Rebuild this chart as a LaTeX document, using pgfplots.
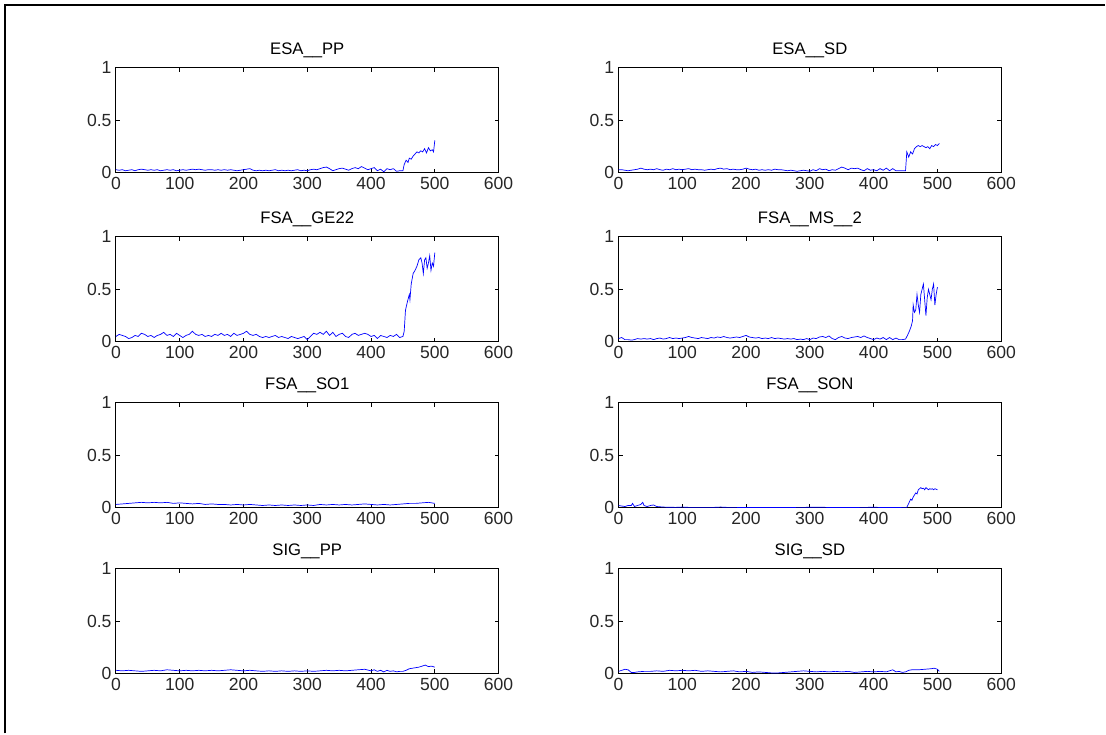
\documentclass[border=0pt]{standalone}
\usepackage{fontspec}
\setmainfont{Liberation Sans}
\usepackage{pgfplots}
\pgfplotsset{compat=1.18}
\pgfplotsset{
  mstyle/.style={
    scale only axis, width=7.66cm, height=2.1cm, anchor=south west,
    xmin=0, xmax=600, ymin=0, ymax=1,
    xtick={0,100,...,600}, ytick={0,0.5,1},
    tick align=inside, major tick length=0.08cm,
    axis line style={line width=0.6pt},
    every tick/.style={black, line width=0.5pt},
    tick label style={font=\fontsize{10}{11}\selectfont, text=black!85},
    /pgf/number format/assume math mode=true,
    xticklabel style={yshift=1pt},
    yticklabel style={xshift=1pt},
    title style={font=\fontsize{9.5}{11}\selectfont, yshift=-4pt},
    no marks,
    cycle list={{color={rgb,1:red,0;green,0;blue,1}, line width=0.75pt}},
  }
}
\begin{document}
\begin{tikzpicture}
\path (0,0) rectangle (22.12cm,14.68cm);
\draw[line width=1pt] (0.1cm,0) -- (0.1cm,14.58cm) -- (22.12cm,14.58cm);

% Row 1 left: ESA__PP
\begin{axis}[mstyle, at={(2.32cm,11.22cm)}, title={ESA\_\_PP}]
\addplot table[row sep=\\] {
x y\\
0 .03\\ 5 .025\\ 10 .03\\ 15 .02\\ 20 .025\\ 25 .03\\ 30 .02\\ 35 .03\\ 40 .035\\ 45 .03\\ 50 .025\\ 55 .03\\ 60 .025\\ 65 .03\\ 70 .02\\ 75 .025\\ 80 .03\\ 85 .025\\ 90 .03\\ 95 .02\\ 100 .025\\ 105 .03\\ 110 .025\\ 115 .03\\ 120 .035\\ 125 .03\\ 130 .035\\ 135 .03\\ 140 .025\\ 145 .03\\ 150 .03\\ 155 .025\\ 160 .03\\ 165 .025\\ 170 .03\\ 175 .025\\ 180 .03\\ 185 .025\\ 190 .02\\ 195 .025\\ 200 .03\\ 205 .035\\ 210 .04\\ 215 .025\\ 220 .02\\ 225 .025\\ 230 .02\\ 235 .025\\ 240 .02\\ 245 .025\\ 250 .03\\ 255 .02\\ 260 .025\\ 265 .02\\ 270 .025\\ 275 .02\\ 280 .025\\ 285 .03\\ 290 .02\\ 295 .025\\ 300 .02\\ 305 .03\\ 310 .035\\ 315 .03\\ 320 .04\\ 325 .05\\ 330 .055\\ 335 .04\\ 340 .02\\ 345 .03\\ 350 .04\\ 355 .045\\ 360 .035\\ 365 .025\\ 370 .04\\ 375 .05\\ 380 .04\\ 385 .06\\ 390 .045\\ 395 .03\\ 400 .04\\ 405 .05\\ 410 .02\\ 415 .035\\ 420 .01\\ 425 .04\\ 430 .03\\ 435 .04\\ 440 .015\\ 445 .02\\ 450 .02\\ 452 .08\\ 455 .12\\ 458 .1\\ 460 .14\\ 463 .13\\ 466 .16\\ 469 .18\\ 472 .2\\ 475 .19\\ 478 .21\\ 481 .2\\ 484 .23\\ 487 .19\\ 490 .24\\ 493 .21\\ 496 .22\\ 498 .2\\ 500 .31\\
};
\end{axis}

% Row 1 right: ESA__SD
\begin{axis}[mstyle, at={(12.38cm,11.22cm)}, title={ESA\_\_SD}]
\addplot table[row sep=\\] {
x y\\
0 .03\\ 5 .03\\ 10 .025\\ 15 .02\\ 20 .025\\ 25 .03\\ 30 .035\\ 35 .045\\ 40 .035\\ 45 .03\\ 50 .035\\ 55 .03\\ 60 .04\\ 65 .03\\ 70 .025\\ 75 .035\\ 80 .03\\ 85 .04\\ 90 .03\\ 95 .035\\ 100 .03\\ 105 .035\\ 110 .04\\ 115 .03\\ 120 .035\\ 125 .03\\ 130 .03\\ 135 .025\\ 140 .03\\ 145 .035\\ 150 .03\\ 155 .04\\ 160 .045\\ 165 .035\\ 170 .04\\ 175 .03\\ 180 .035\\ 185 .03\\ 190 .03\\ 195 .035\\ 200 .045\\ 205 .035\\ 210 .03\\ 215 .035\\ 220 .025\\ 225 .03\\ 230 .025\\ 235 .03\\ 240 .025\\ 245 .035\\ 250 .03\\ 255 .03\\ 260 .025\\ 265 .02\\ 270 .025\\ 275 .02\\ 280 .015\\ 285 .02\\ 290 .025\\ 295 .02\\ 300 .015\\ 305 .03\\ 310 .02\\ 315 .04\\ 320 .03\\ 325 .035\\ 330 .02\\ 335 .03\\ 340 .025\\ 345 .04\\ 350 .055\\ 355 .045\\ 360 .03\\ 365 .045\\ 370 .04\\ 375 .045\\ 380 .03\\ 385 .02\\ 390 .04\\ 395 .025\\ 400 .03\\ 405 .02\\ 410 .04\\ 415 .025\\ 420 .045\\ 425 .02\\ 430 .04\\ 435 .02\\ 440 .02\\ 445 .02\\ 450 .02\\ 452 .2\\ 455 .15\\ 458 .2\\ 461 .18\\ 464 .23\\ 467 .25\\ 470 .26\\ 473 .25\\ 476 .26\\ 479 .25\\ 482 .24\\ 485 .25\\ 488 .23\\ 491 .26\\ 494 .25\\ 497 .27\\ 500 .26\\ 503 .28\\
};
\end{axis}

% Row 2 left: FSA__GE22
\begin{axis}[mstyle, at={(2.32cm,7.84cm)}, title={FSA\_\_GE22}]
\addplot table[row sep=\\] {
x y\\
0 .05\\ 5 .07\\ 10 .06\\ 15 .05\\ 20 .03\\ 25 .04\\ 30 .06\\ 35 .05\\ 40 .08\\ 45 .07\\ 50 .05\\ 55 .06\\ 60 .04\\ 65 .06\\ 70 .07\\ 75 .09\\ 80 .06\\ 85 .07\\ 90 .05\\ 95 .08\\ 100 .06\\ 105 .04\\ 110 .06\\ 115 .07\\ 120 .1\\ 125 .07\\ 130 .06\\ 135 .07\\ 140 .05\\ 145 .06\\ 150 .05\\ 155 .07\\ 160 .06\\ 165 .08\\ 170 .06\\ 175 .07\\ 180 .05\\ 185 .08\\ 190 .06\\ 195 .07\\ 200 .08\\ 205 .1\\ 210 .07\\ 215 .06\\ 220 .07\\ 225 .05\\ 230 .04\\ 235 .05\\ 240 .04\\ 245 .05\\ 250 .06\\ 255 .04\\ 260 .05\\ 265 .04\\ 270 .03\\ 275 .05\\ 280 .04\\ 285 .03\\ 290 .04\\ 295 .05\\ 300 .02\\ 305 .05\\ 310 .08\\ 315 .07\\ 320 .09\\ 325 .07\\ 330 .1\\ 335 .06\\ 340 .09\\ 345 .05\\ 350 .07\\ 355 .08\\ 360 .05\\ 365 .04\\ 370 .07\\ 375 .08\\ 380 .06\\ 385 .07\\ 390 .08\\ 395 .07\\ 400 .05\\ 405 .06\\ 410 .03\\ 415 .06\\ 420 .05\\ 425 .04\\ 430 .06\\ 435 .05\\ 440 .07\\ 445 .04\\ 450 .05\\ 452 .1\\ 454 .3\\ 457 .38\\ 460 .45\\ 461 .4\\ 463 .55\\ 466 .65\\ 469 .68\\ 472 .72\\ 475 .78\\ 478 .8\\ 480 .75\\ 482 .65\\ 484 .78\\ 486 .8\\ 488 .7\\ 490 .75\\ 492 .82\\ 494 .68\\ 496 .75\\ 498 .72\\ 500 .85\\
};
\end{axis}

% Row 2 right: FSA__MS__2
\begin{axis}[mstyle, at={(12.38cm,7.84cm)}, title={FSA\_\_MS\_\_2}]
\addplot table[row sep=\\] {
x y\\
0 .03\\ 5 .04\\ 10 .02\\ 15 .02\\ 20 .015\\ 25 .02\\ 30 .03\\ 35 .025\\ 40 .03\\ 45 .025\\ 50 .03\\ 55 .02\\ 60 .03\\ 65 .035\\ 70 .025\\ 75 .03\\ 80 .04\\ 85 .03\\ 90 .035\\ 95 .03\\ 100 .035\\ 105 .04\\ 110 .05\\ 115 .04\\ 120 .035\\ 125 .03\\ 130 .04\\ 135 .035\\ 140 .03\\ 145 .04\\ 150 .035\\ 155 .045\\ 160 .04\\ 165 .05\\ 170 .04\\ 175 .035\\ 180 .04\\ 185 .045\\ 190 .04\\ 195 .05\\ 200 .06\\ 205 .045\\ 210 .04\\ 215 .035\\ 220 .04\\ 225 .03\\ 230 .035\\ 235 .03\\ 240 .04\\ 245 .03\\ 250 .035\\ 255 .03\\ 260 .025\\ 265 .03\\ 270 .025\\ 275 .03\\ 280 .02\\ 285 .025\\ 290 .02\\ 295 .03\\ 300 .02\\ 305 .035\\ 310 .03\\ 315 .045\\ 320 .05\\ 325 .04\\ 330 .055\\ 335 .03\\ 340 .02\\ 345 .04\\ 350 .05\\ 355 .035\\ 360 .03\\ 365 .04\\ 370 .045\\ 375 .05\\ 380 .04\\ 385 .055\\ 390 .04\\ 395 .03\\ 400 .02\\ 405 .035\\ 410 .025\\ 415 .04\\ 420 .02\\ 425 .04\\ 430 .02\\ 435 .035\\ 440 .02\\ 445 .02\\ 450 .025\\ 453 .06\\ 456 .1\\ 459 .15\\ 461 .2\\ 462 .35\\ 464 .28\\ 466 .3\\ 468 .45\\ 470 .35\\ 472 .28\\ 474 .45\\ 476 .5\\ 478 .55\\ 480 .4\\ 482 .25\\ 484 .42\\ 486 .5\\ 488 .45\\ 490 .4\\ 492 .5\\ 494 .55\\ 496 .35\\ 498 .45\\ 500 .52\\
};
\end{axis}

% Row 3 left: FSA__SO1
\begin{axis}[mstyle, at={(2.32cm,4.52cm)}, title={FSA\_\_SO1}]
\addplot table[row sep=\\] {
x y\\
0 .03\\ 10 .035\\ 20 .04\\ 30 .045\\ 40 .05\\ 50 .045\\ 60 .05\\ 70 .045\\ 80 .05\\ 90 .04\\ 100 .045\\ 110 .04\\ 120 .035\\ 130 .04\\ 140 .03\\ 150 .035\\ 160 .03\\ 170 .03\\ 180 .025\\ 190 .03\\ 200 .025\\ 210 .03\\ 220 .025\\ 230 .02\\ 240 .025\\ 250 .02\\ 260 .025\\ 270 .02\\ 280 .025\\ 290 .02\\ 300 .025\\ 310 .02\\ 320 .03\\ 330 .025\\ 340 .03\\ 350 .025\\ 360 .03\\ 370 .025\\ 380 .03\\ 390 .035\\ 400 .03\\ 410 .025\\ 420 .03\\ 430 .025\\ 440 .03\\ 450 .035\\ 460 .04\\ 470 .04\\ 480 .045\\ 490 .05\\ 500 .04\\
};
\end{axis}

% Row 3 right: FSA__SON
\begin{axis}[mstyle, at={(12.38cm,4.52cm)}, title={FSA\_\_SON}]
\addplot table[row sep=\\] {
x y\\
0 .02\\ 5 .015\\ 10 .01\\ 15 .02\\ 20 .02\\ 22 .04\\ 25 .01\\ 30 .02\\ 35 .03\\ 38 .05\\ 40 .02\\ 45 .01\\ 50 .02\\ 55 .025\\ 60 .01\\ 70 .005\\ 80 .003\\ 90 .002\\ 100 .005\\ 110 .002\\ 150 .002\\ 160 .005\\ 170 .002\\ 250 .001\\ 320 .003\\ 330 .001\\ 390 .002\\ 400 .004\\ 410 .001\\ 452 .002\\ 455 .04\\ 458 .08\\ 460 .07\\ 462 .1\\ 464 .12\\ 466 .14\\ 468 .13\\ 470 .17\\ 472 .18\\ 474 .19\\ 476 .18\\ 478 .185\\ 480 .17\\ 482 .19\\ 484 .18\\ 486 .17\\ 488 .18\\ 490 .175\\ 492 .18\\ 494 .17\\ 496 .18\\ 498 .175\\ 500 .17\\
};
\end{axis}

% Row 4 left: SIG__PP
\begin{axis}[mstyle, at={(2.32cm,1.2cm)}, title={SIG\_\_PP}]
\addplot table[row sep=\\] {
x y\\
0 .03\\ 10 .025\\ 20 .03\\ 30 .025\\ 40 .02\\ 50 .025\\ 60 .03\\ 70 .025\\ 80 .035\\ 90 .03\\ 100 .025\\ 110 .03\\ 120 .025\\ 130 .03\\ 140 .025\\ 150 .03\\ 160 .025\\ 170 .03\\ 180 .035\\ 190 .03\\ 200 .025\\ 210 .03\\ 220 .025\\ 230 .02\\ 240 .025\\ 250 .02\\ 260 .025\\ 270 .02\\ 280 .025\\ 290 .02\\ 300 .025\\ 310 .02\\ 320 .025\\ 330 .03\\ 340 .025\\ 350 .03\\ 360 .025\\ 370 .03\\ 380 .035\\ 390 .04\\ 400 .025\\ 405 .035\\ 410 .02\\ 415 .03\\ 420 .015\\ 425 .03\\ 430 .02\\ 435 .025\\ 440 .015\\ 445 .02\\ 450 .02\\ 455 .03\\ 460 .045\\ 465 .05\\ 470 .055\\ 475 .06\\ 480 .07\\ 485 .08\\ 490 .065\\ 495 .07\\ 500 .06\\
};
\end{axis}

% Row 4 right: SIG__SD
\begin{axis}[mstyle, at={(12.38cm,1.2cm)}, title={SIG\_\_SD}]
\addplot table[row sep=\\] {
x y\\
0 .02\\ 5 .03\\ 10 .04\\ 15 .035\\ 20 .01\\ 25 .01\\ 30 .015\\ 40 .02\\ 50 .02\\ 60 .025\\ 70 .02\\ 80 .03\\ 90 .025\\ 100 .03\\ 110 .025\\ 120 .03\\ 130 .02\\ 140 .025\\ 150 .02\\ 160 .015\\ 170 .02\\ 180 .025\\ 190 .015\\ 200 .02\\ 210 .01\\ 220 .015\\ 230 .01\\ 240 .005\\ 250 .005\\ 260 .01\\ 270 .015\\ 280 .02\\ 290 .025\\ 300 .02\\ 310 .015\\ 320 .02\\ 330 .015\\ 340 .02\\ 350 .015\\ 360 .02\\ 370 .01\\ 380 .015\\ 390 .02\\ 400 .015\\ 410 .02\\ 420 .015\\ 430 .035\\ 435 .015\\ 440 .02\\ 445 .01\\ 450 .015\\ 455 .03\\ 460 .035\\ 470 .035\\ 480 .04\\ 490 .045\\ 495 .05\\ 500 .04\\ 503 .02\\
};
\end{axis}
\end{tikzpicture}
\end{document}
